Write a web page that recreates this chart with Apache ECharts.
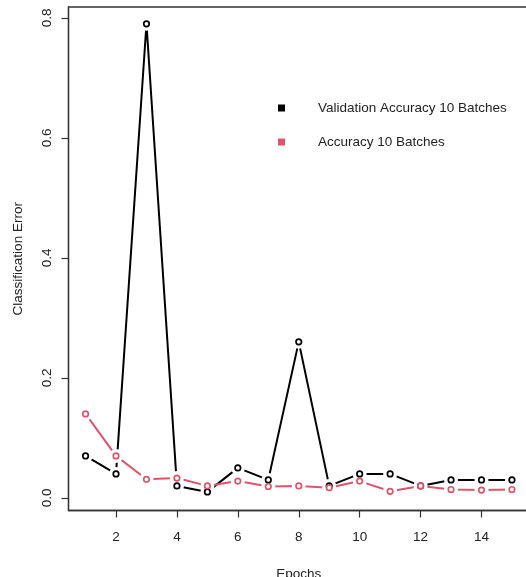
<!DOCTYPE html>
<html>
<head>
<meta charset="utf-8">
<script src="https://cdn.jsdelivr.net/npm/echarts@6/dist/echarts.min.js"></script>
<style>
  html, body { margin: 0; padding: 0; background: #fff; }
  #chart { width: 526px; height: 577px; }
</style>
</head>
<body>
<div id="chart"></div>
<script>
// Epoch index and classification error per epoch
const epochs = [1, 2, 3, 4, 5, 6, 7, 8, 9, 10, 11, 12, 13, 14, 15];
const validationError = [0.07, 0.04, 0.79, 0.02, 0.01, 0.05, 0.03, 0.26, 0.02, 0.04, 0.04, 0.02, 0.03, 0.03, 0.03];
const trainingError = [0.14, 0.07, 0.031, 0.033, 0.02, 0.028, 0.019, 0.02, 0.017, 0.028, 0.011, 0.02, 0.014, 0.013, 0.014];

const xTicks = [2, 4, 6, 8, 10, 12, 14];
const yTicks = [0, 0.2, 0.4, 0.6, 0.8];

const validationName = 'Validation Accuracy 10 Batches';
const trainingName = 'Accuracy 10 Batches';

const black = '#000000';
const rose = '#DF536B';
const font = 'Liberation Sans, Arial, sans-serif';

const pairs = ys => epochs.map((x, i) => [x, ys[i]]);

// Line, then white discs that open small gaps round each point, then the hollow points
function lineSeries(name, ys, color, z) {
  return {
    name: name, type: 'line', data: pairs(ys), showSymbol: false, z: z,
    lineStyle: { color: color, width: 2 }, itemStyle: { color: color },
    silent: true
  };
}
function gapSeries(ys, z) {
  return {
    type: 'scatter', data: pairs(ys), symbol: 'circle', symbolSize: 14, z: z,
    itemStyle: { color: '#ffffff', opacity: 1 }, silent: true
  };
}
function pointSeries(ys, color, z) {
  return {
    type: 'scatter', data: pairs(ys), symbol: 'circle', symbolSize: 5.5, z: z,
    itemStyle: { color: '#ffffff', opacity: 1, borderColor: color, borderWidth: 1.7 }, silent: true
  };
}

const chart = echarts.init(document.getElementById('chart'), null, { renderer: 'canvas' });
chart.setOption({
  animation: false,
  backgroundColor: '#ffffff',
  grid: {
    left: 68.5, top: 7, right: -3, bottom: 66.5,
    outerBoundsMode: 'none', containLabel: false,
    show: true, borderColor: '#333333', borderWidth: 1.3, backgroundColor: 'transparent'
  },
  legend: {
    orient: 'vertical', left: 273, top: 96,
    itemWidth: 7, itemHeight: 7, itemGap: 20,
    selectedMode: false,
    textStyle: { fontFamily: font, fontSize: 13.5, color: '#222', padding: [0, 0, 0, 28] },
    data: [
      { name: validationName, icon: 'rect', itemStyle: { color: black, borderWidth: 0 } },
      { name: trainingName, icon: 'rect', itemStyle: { color: rose, borderWidth: 0 } }
    ]
  },
  xAxis: {
    type: 'value', min: 0.44, max: 15.56,
    name: 'Epochs', nameLocation: 'middle', nameGap: 57,
    nameTextStyle: { fontFamily: font, fontSize: 13.5, color: '#222' },
    axisLine: { show: true, onZero: false, lineStyle: { color: '#333333', width: 1.3 } },
    axisTick: { show: true, inside: false, length: 7, customValues: xTicks, lineStyle: { color: '#333333', width: 1.2 } },
    axisLabel: { customValues: xTicks, margin: 20, fontFamily: font, fontSize: 13.5, color: '#222' },
    splitLine: { show: false }
  },
  yAxis: {
    type: 'value', min: -0.021, max: 0.818,
    name: 'Classification Error', nameLocation: 'middle', nameGap: 43, nameRotate: 90,
    nameTextStyle: { fontFamily: font, fontSize: 13.5, color: '#222' },
    axisLine: { show: true, onZero: false, lineStyle: { color: '#333333', width: 1.3 } },
    axisTick: { show: true, inside: false, length: 7, customValues: yTicks, lineStyle: { color: '#333333', width: 1.2 } },
    axisLabel: {
      customValues: yTicks, rotate: 90, margin: 14, fontFamily: font, fontSize: 13.5, color: '#222',
      formatter: v => v.toFixed(1)
    },
    splitLine: { show: false }
  },
  series: [
    lineSeries(validationName, validationError, black, 1),
    gapSeries(validationError, 2),
    lineSeries(trainingName, trainingError, rose, 3),
    gapSeries(trainingError, 4),
    pointSeries(validationError, black, 5),
    pointSeries(trainingError, rose, 6)
  ]
});
</script>
</body>
</html>
